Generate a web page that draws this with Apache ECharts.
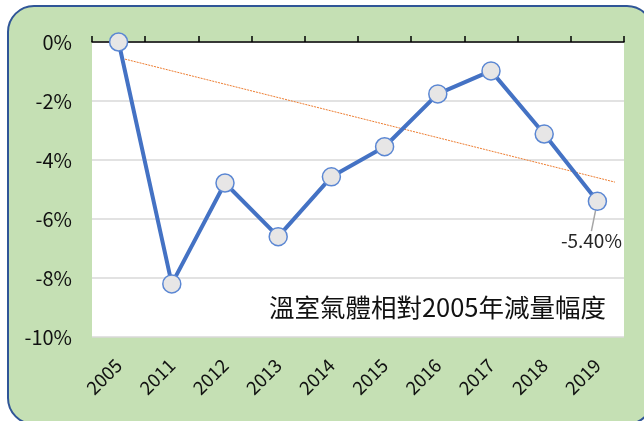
<!DOCTYPE html>
<html>
<head>
<meta charset="utf-8">
<script src="https://cdn.jsdelivr.net/npm/echarts@6/dist/echarts.min.js"></script>
<style>
html,body{margin:0;padding:0;background:#fff;}
#c{width:644px;height:421px;}
</style>
</head>
<body>
<div id="c"></div>
<script>
var years = ['2005','2011','2012','2013','2014','2015','2016','2017','2018','2019'];
var reduction = [0, -8.2, -4.78, -6.6, -4.57, -3.55, -1.76, -0.98, -3.12, -5.40];
var trendX = [0.62, 9.83];
var trendY = [-0.58, -4.75];
var yTicks = [0, -2, -4, -6, -8, -10];
var titleText = '溫室氣體相對2005年減量幅度';

var font = '"Noto Sans CJK TC", "Noto Sans", sans-serif';
var lastIdx = reduction.length - 1;
var lineData = reduction.map(function (v, i) {
  if (i === lastIdx) {
    return {value: v, label: {show: true}};
  }
  return v;
});
var trendData = trendX.map(function (x, i) { return [x, trendY[i]]; });

var chart = echarts.init(document.getElementById('c'));
chart.setOption({
  animation: false,
  backgroundColor: '#ffffff',
  graphic: [{
    type: 'rect',
    z: -10,
    shape: {x: 8, y: 6, width: 645, height: 418, r: 26},
    style: {fill: '#C5E0B4', stroke: '#2F5597', lineWidth: 2}
  }],
  title: {
    text: titleText,
    right: 33,
    top: 290,
    textStyle: {fontFamily: font, fontSize: 25.5, fontWeight: 'normal', color: '#111'}
  },
  grid: {
    left: 92, top: 42, right: 20, bottom: 84,
    show: true, backgroundColor: '#ffffff', borderWidth: 0
  },
  xAxis: [{
    type: 'category',
    data: years,
    position: 'top',
    boundaryGap: true,
    axisLine: {show: true, lineStyle: {color: '#000', width: 1.5}},
    axisTick: {show: true, length: 6, inside: false, alignWithLabel: false, lineStyle: {color: '#000', width: 1.5}},
    axisLabel: {show: false},
    splitLine: {show: false}
  }, {
    type: 'category',
    data: years,
    position: 'bottom',
    boundaryGap: true,
    axisLine: {show: false},
    axisTick: {show: false},
    axisLabel: {show: true, rotate: 45, margin: 25, fontSize: 18.5, color: '#111', fontFamily: font},
    splitLine: {show: false}
  }, {
    type: 'value',
    min: 0, max: 10,
    show: false
  }],
  yAxis: {
    type: 'value',
    min: yTicks[yTicks.length - 1],
    max: yTicks[0],
    interval: 2,
    axisLine: {show: false},
    axisTick: {show: false},
    axisLabel: {formatter: '{value}%', fontSize: 20, color: '#111', margin: 20, fontFamily: font},
    splitLine: {show: true, lineStyle: {color: '#D9D9D9', width: 1.5}}
  },
  series: [{
    type: 'line',
    xAxisIndex: 2,
    data: trendData,
    symbol: 'none',
    lineStyle: {color: '#ED7D31', width: 1, type: [2, 1]},
    z: 1,
    silent: true
  }, {
    type: 'line',
    xAxisIndex: 0,
    data: lineData,
    symbol: 'circle',
    symbolSize: 18,
    lineStyle: {color: '#4472C4', width: 4},
    itemStyle: {color: '#E7E6E6', borderColor: '#5B87D3', borderWidth: 1.5},
    label: {
      show: false,
      position: 'bottom',
      distance: 20,
      fontSize: 19,
      color: '#262626',
      fontFamily: font,
      formatter: function (p) { return p.value.toFixed(2) + '%'; }
    },
    labelLine: {show: true, lineStyle: {color: '#A6A6A6', width: 1.5}},
    labelLayout: function (p) {
      if (p.dataIndex === lastIdx) { return {dx: -6, dy: 0}; }
    },
    z: 3
  }]
});
</script>
</body>
</html>
